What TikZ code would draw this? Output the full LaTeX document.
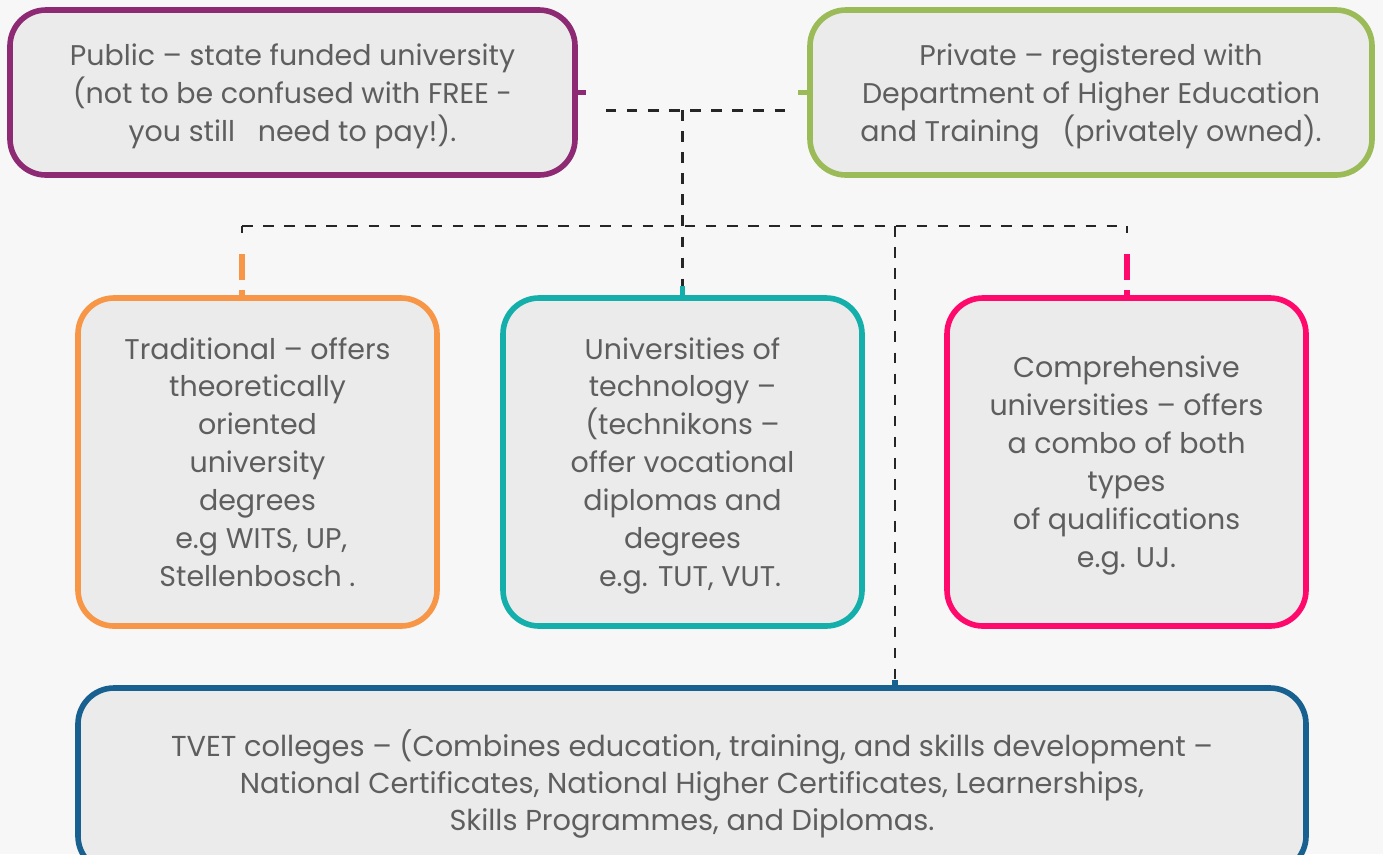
\documentclass[tikz,border=0pt]{standalone}
\usepackage{fontspec}
\setmainfont{Poppins}
\usepackage{tikz}
\usetikzlibrary{positioning,calc}

\definecolor{pubcol}{HTML}{8E2A74}
\definecolor{privcol}{HTML}{9BBB59}
\definecolor{tradcol}{HTML}{F79646}
\definecolor{techcol}{HTML}{14AFAB}
\definecolor{compcol}{HTML}{FF0A6C}
\definecolor{tvetcol}{HTML}{17608F}
\definecolor{boxfill}{HTML}{EBEBEB}
\definecolor{txtcol}{HTML}{5E5E5E}

\tikzset{
  unibox/.style={draw=#1, line width=1.6pt, fill=boxfill, rounded corners=0.36cm,
    align=center, text=txtcol, font=\fontsize{8.1}{10.8}\selectfont, inner sep=0pt,
    text depth=-3pt},
  link/.style={dashed, line width=0.6pt, black!85},
  stub/.style={line width=1.7pt, #1},
  thickdash/.style={line width=1.7pt, #1, dash pattern=on 0.26cm off 0.1cm}
}

\begin{document}
\begin{tikzpicture}
          \fill[white!97!black] (0,0) rectangle (13.83,-8.54);
          \useasboundingbox (0,0) rectangle (13.83,-8.54);

          % top row
          \node[unibox=pubcol, minimum width=5.65cm, minimum height=1.65cm, text depth=-6pt] (pub) at (2.925,-0.925)
            {Public -- state funded university\\(not to be confused with FREE -\\you still \ \ need to pay!).};
          \node[unibox=privcol, minimum width=5.62cm, minimum height=1.65cm] (priv) at (10.91,-0.925)
            {Private -- registered with\\Department of Higher Education\\and Training \ \ (privately owned).};

          % middle row
          \node[unibox=tradcol, minimum width=3.59cm, minimum height=3.28cm] (trad) at (2.575,-4.62)
            {Traditional -- offers\\theoretically\\oriented\\university\\degrees\\\ e.g WITS, UP,\\Stellenbosch .};
          \node[unibox=techcol, minimum width=3.59cm, minimum height=3.28cm, text depth=-6pt] (tech) at (6.825,-4.62)
            {Universities of\\technology --\\(technikons --\\offer vocational\\diplomas and\\degrees\\\ \ e.g. TUT, VUT.};
          \node[unibox=compcol, minimum width=3.59cm, minimum height=3.28cm] (comp) at (11.265,-4.62)
            {Comprehensive\\universities -- offers\\a combo of both\\types\\of qualifications\\e.g. UJ.};

          % bottom
          \node[unibox=tvetcol, minimum width=12.28cm, minimum height=1.84cm, text depth=-1pt,
            font=\fontsize{8.2}{10.5}\selectfont] (tvet) at (6.92,-7.8)
            {TVET colleges -- (Combines education, training, and skills development --\\National Certificates, National Higher Certificates, Learnerships,\\Skills Programmes, and Diplomas.};

          \coordinate (topjoin) at (6.825,-1.1);
          \coordinate (leftend) at (2.42,-2.26);
          \coordinate (rightend) at (11.27,-2.26);
          \coordinate (tvetjoin) at (8.95,-2.26);

          \draw[stub=pubcol] (pub.east) -- ++(0.08,0);
          \draw[stub=privcol] (priv.west) -- ++(-0.09,0);
          \draw[link] ($(pub.east)+(0.28,-0.18)$) -- ($(priv.west)+(-0.2,-0.18)$);
          \draw[link] (topjoin) -- (tech.north);
          \draw[link] (leftend) -- (rightend);
          \draw[link] (leftend) -- ++(0,-0.07);
          \draw[link] (rightend) -- ++(0,-0.07);
          \draw[thickdash=tradcol] (2.42,-2.54) -- (2.42,-2.98);
          \draw[thickdash=compcol] (11.27,-2.54) -- (11.27,-2.98);
          \draw[stub=techcol] (tech.north) -- ++(0,0.09);
          \draw[link] (tvetjoin) -- (8.95,-6.8);
          \draw[stub=tvetcol] (8.95,-6.8) -- (8.95,-6.9);
        \end{tikzpicture}
\end{document}
